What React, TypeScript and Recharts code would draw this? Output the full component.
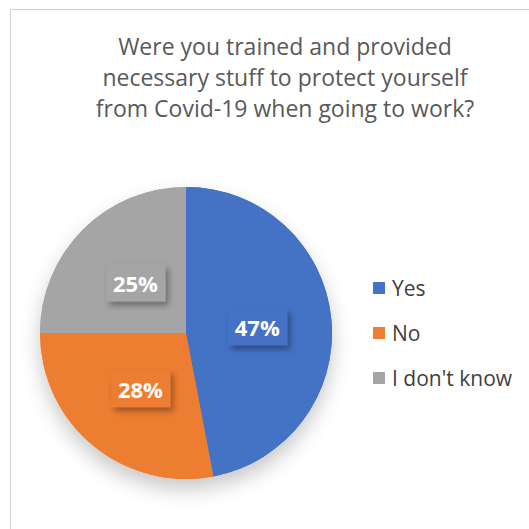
import { PieChart, Pie, Cell, Legend } from "recharts";

const categories = ["Yes", "No", "I don't know"];
const shares = [47, 28, 25];
const colors = ["#4472C4", "#ED7D31", "#A5A5A5"];
const titleLines = [
  "Were you trained and provided",
  "necessary stuff to protect yourself",
  "from Covid-19 when going to work?",
];

const data = categories.map((name, i) => ({ name, value: shares[i] }));
const FONT = "'Open Sans', Lato, sans-serif";
const RAD = Math.PI / 180;

const renderLabel = (p: any) => {
  const r = p.outerRadius * 0.49;
  const x = p.cx + r * Math.cos(-p.midAngle * RAD);
  const y = p.cy + r * Math.sin(-p.midAngle * RAD);
  const fill = colors[p.index];
  return (
    <g key={"lbl" + p.index}>
      <rect x={x - 29} y={y - 18} width={59} height={37} fill={fill} filter="url(#boxShadow)" />
      <text x={x} y={y + 1} textAnchor="middle" dominantBaseline="central" fill="#fff"
        fontFamily={FONT} fontWeight={700} fontSize={22}>
        {p.value}%
      </text>
    </g>
  );
};

const LegendBox = () => (
  <div style={{ display: "flex", flexDirection: "column", gap: 16 }}>
    {categories.map((c, i) => (
      <div key={c} style={{ display: "flex", alignItems: "center", gap: 7, height: 29 }}>
        <span style={{ width: 12, height: 12, background: colors[i] }} />
        <span style={{ fontFamily: FONT, fontSize: 21, color: "#404040" }}>{c}</span>
      </div>
    ))}
  </div>
);

export default function App() {
  return (
    <div style={{ position: "absolute", left: 0, top: 0, width: 529, height: 529, background: "#fff", overflow: "hidden" }}>
      <div style={{ position: "absolute", left: 10, top: 9, width: 600, height: 600, border: "1px solid #cfcfcf" }} />
      <div style={{ position: "absolute", left: 40, top: 31, width: 490, textAlign: "center", fontFamily: FONT, fontSize: 23, lineHeight: "31px", color: "#595959" }}>
        {titleLines.map(l => <div key={l}>{l}</div>)}
      </div>
      <div style={{ position: "absolute", left: 0, top: 0 }}>
        <PieChart width={529} height={529} margin={{ top: 0, right: 0, bottom: 0, left: 0 }}>
          <defs>
            <filter id="pieShadow" x="-30%" y="-30%" width="160%" height="170%">
              <feDropShadow dx={0} dy={10} stdDeviation={10} floodColor="#000" floodOpacity={0.22} />
            </filter>
            <filter id="boxShadow" x="-30%" y="-30%" width="170%" height="180%">
              <feDropShadow dx={3} dy={4} stdDeviation={3} floodColor="#000" floodOpacity={0.35} />
            </filter>
          </defs>
          <Pie data={data} dataKey="value" nameKey="name" cx={186} cy={333} outerRadius={146}
            startAngle={90} endAngle={-270} stroke="none" isAnimationActive={false}
            style={{ filter: "url(#pieShadow)" }}>
            {data.map((d, i) => <Cell key={d.name} fill={colors[i]} style={{ filter: "url(#pieShadow)" }} />)}
          </Pie>
          <Pie data={data} dataKey="value" nameKey="name" cx={186} cy={333} outerRadius={146}
            startAngle={90} endAngle={-270} stroke="none" isAnimationActive={false}
            label={renderLabel} labelLine={false}>
            {data.map((d, i) => <Cell key={d.name} fill={colors[i]} />)}
          </Pie>
          <Legend layout="vertical" align="right" verticalAlign="top" content={<LegendBox />}
            wrapperStyle={{ left: 373, top: 273, width: 156 }} />
        </PieChart>
      </div>
    </div>
  );
}
